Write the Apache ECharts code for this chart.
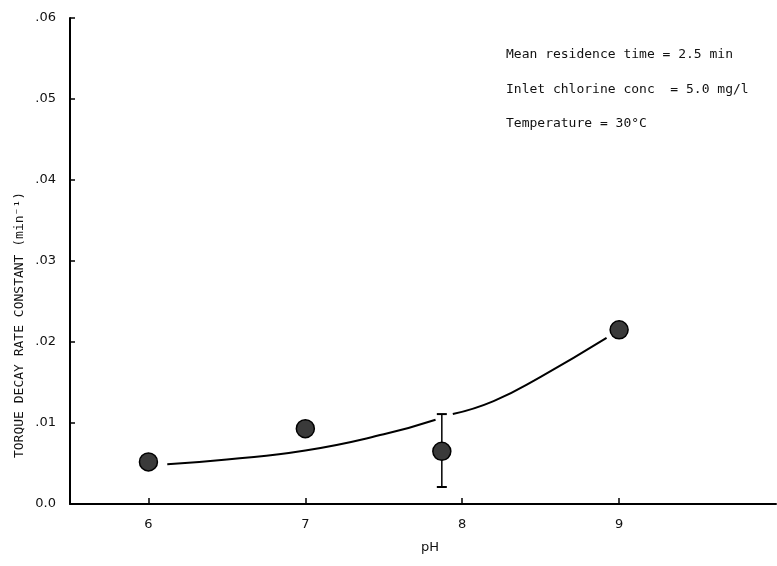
<!DOCTYPE html>
<html>
<head>
<meta charset="utf-8">
<script src="https://cdn.jsdelivr.net/npm/echarts@6/dist/echarts.min.js"></script>
<style>
html,body{margin:0;padding:0;background:#fff;}
#main{width:777px;height:566px;}
</style>
</head>
<body>
<div id="main"></div>
<script>
// Measured points (pH, decay rate constant)
var pointPH = [6.0, 7.0, 7.87, 9.0];
var pointK = [0.0052, 0.0093, 0.0065, 0.0215];
// Error bar at pH 7.87
var errPH = [7.87];
var errLow = [0.0021];
var errHigh = [0.0111];
// Fitted curve, drawn in two pieces (gap at the error bar)
var curve1PH = [6.12, 6.5, 7.0, 7.5, 7.83];
var curve1K = [0.0049, 0.0055, 0.0066, 0.0086, 0.0104];
var curve2PH = [7.94, 8.2, 8.5, 8.92];
var curve2K = [0.0111, 0.0127, 0.0157, 0.0205];
// Axis ticks
var xTicks = [6, 7, 8, 9];
var notes = ['Mean residence time = 2.5 min', 'Inlet chlorine conc  = 5.0 mg/l', 'Temperature = 30\u00b0C'];

function zip(a, b) { return a.map(function (v, i) { return [v, b[i]]; }); }

var chart = echarts.init(document.getElementById('main'));
chart.setOption({
  animation: false,
  backgroundColor: '#fff',
  grid: { left: 70, right: 1, top: 18, bottom: 62 },
  xAxis: {
    type: 'value', min: 5.5, max: 10,
    axisLine: { lineStyle: { color: '#000', width: 2 } },
    axisTick: { show: true, inside: true, length: 6, customValues: xTicks, lineStyle: { color: '#000', width: 1.5 } },
    axisLabel: { customValues: xTicks, color: '#111', fontFamily: 'DejaVu Sans', fontSize: 13, margin: 14 },
    splitLine: { show: false }
  },
  yAxis: {
    type: 'value', min: 0, max: 0.06, interval: 0.01,
    axisLine: { show: true, lineStyle: { color: '#000', width: 2 } },
    axisTick: { show: true, inside: true, length: 5, lineStyle: { color: '#000', width: 1.5 } },
    axisLabel: {
      color: '#111', fontFamily: 'DejaVu Sans', fontSize: 13, margin: 14,
      formatter: function (v) { return v === 0 ? '0.0' : v.toFixed(2).replace(/^0/, ''); }
    },
    splitLine: { show: false }
  },
  graphic: [
    { type: 'text', left: 506, top: 48, style: { text: notes[0], fontFamily: 'DejaVu Sans Mono', fontSize: 13, fill: '#111' } },
    { type: 'text', left: 506, top: 83, style: { text: notes[1], fontFamily: 'DejaVu Sans Mono', fontSize: 13, fill: '#111' } },
    { type: 'text', left: 506, top: 117, style: { text: notes[2], fontFamily: 'DejaVu Sans Mono', fontSize: 13, fill: '#111' } },
    { type: 'text', x: 20, y: 325, rotation: Math.PI / 2, style: { text: 'TORQUE DECAY RATE CONSTANT (min\u207b\u00b9)', fontFamily: 'DejaVu Sans Mono', fontSize: 13, fill: '#111', align: 'center', verticalAlign: 'middle' } },
    { type: 'text', x: 430, y: 548, style: { text: 'pH', fontFamily: 'DejaVu Sans', fontSize: 13, fill: '#111', align: 'center', verticalAlign: 'middle' } }
  ],
  series: [
    {
      type: 'line', data: zip(curve1PH, curve1K), smooth: true, symbol: 'none',
      lineStyle: { color: '#000', width: 2 }, z: 2
    },
    {
      type: 'line', data: zip(curve2PH, curve2K), smooth: true, symbol: 'none',
      lineStyle: { color: '#000', width: 2 }, z: 2
    },
    {
      type: 'custom', z: 3,
      data: errPH.map(function (p, i) { return [p, errLow[i], errHigh[i]]; }),
      renderItem: function (params, api) {
        var lo = api.coord([api.value(0), api.value(1)]);
        var hi = api.coord([api.value(0), api.value(2)]);
        var cap = 5;
        return {
          type: 'group', children: [
            { type: 'line', shape: { x1: lo[0], y1: lo[1], x2: hi[0], y2: hi[1] }, style: { stroke: '#000', lineWidth: 1.5 } },
            { type: 'line', shape: { x1: lo[0] - cap, y1: lo[1], x2: lo[0] + cap, y2: lo[1] }, style: { stroke: '#000', lineWidth: 2 } },
            { type: 'line', shape: { x1: hi[0] - cap, y1: hi[1], x2: hi[0] + cap, y2: hi[1] }, style: { stroke: '#000', lineWidth: 2 } }
          ]
        };
      }
    },
    {
      type: 'scatter', data: zip(pointPH, pointK), symbol: 'circle', symbolSize: 18, z: 5,
      itemStyle: { color: '#3a3a3a', borderColor: '#000', borderWidth: 1.5, opacity: 1 }
    }
  ]
});
</script>
</body>
</html>
